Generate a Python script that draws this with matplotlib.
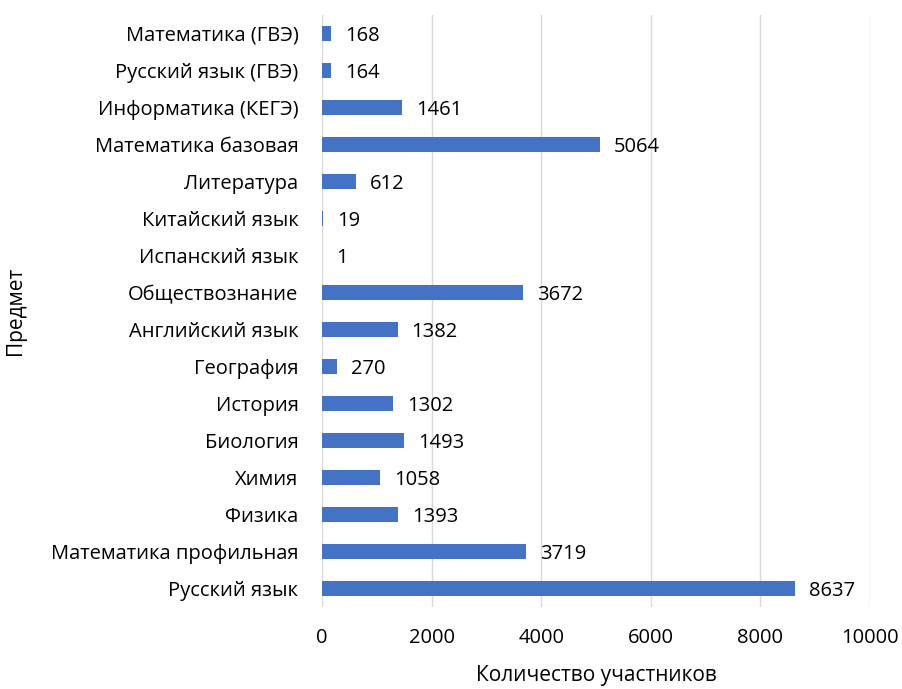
import matplotlib
matplotlib.use("Agg")
import matplotlib.pyplot as plt

subjects = [
    "Русский язык",
    "Математика профильная",
    "Физика",
    "Химия",
    "Биология",
    "История",
    "География",
    "Английский язык",
    "Обществознание",
    "Испанский язык",
    "Китайский язык",
    "Литература",
    "Математика базовая",
    "Информатика (КЕГЭ)",
    "Русский язык (ГВЭ)",
    "Математика (ГВЭ)",
]
participants = [8637, 3719, 1393, 1058, 1493, 1302, 270, 1382, 3672, 1, 19, 612, 5064, 1461, 164, 168]
x_ticks = [0, 2000, 4000, 6000, 8000, 10000]

plt.rcParams["font.family"] = ["Open Sans", "DejaVu Sans"]

fig = plt.figure(figsize=(9.03, 6.89), dpi=100)
ax = fig.add_axes([322 / 903, 1 - 607 / 689, (870 - 322) / 903, (607 - 15) / 689])

pos = list(range(len(subjects)))
ax.barh(pos, participants, height=0.38, color="#4472C4", zorder=3)

for y, v in zip(pos, participants):
    ax.annotate(str(v), (v, y), xytext=(10, -2), textcoords="offset points",
                ha="left", va="center", fontsize=14.5, color="#000000")

ax.set_xlim(0, 10000)
ax.set_ylim(-0.5, len(subjects) - 0.5)
ax.set_xticks(x_ticks)
ax.set_yticks(pos)
ax.set_yticklabels(subjects)
ax.tick_params(axis="both", length=0, labelsize=14.5, colors="#000000")
ax.tick_params(axis="x", pad=15)
ax.tick_params(axis="y", pad=17)
ax.grid(axis="x", color="#D9D9D9", linewidth=1, zorder=0)
for s in ax.spines.values():
    s.set_visible(False)

ax.set_xlabel("Количество участников", fontsize=15, labelpad=12)
ax.set_ylabel("Предмет", fontsize=15)
ax.yaxis.set_label_coords(-0.54, 0.5)

fig.savefig("out.png", dpi=100)
